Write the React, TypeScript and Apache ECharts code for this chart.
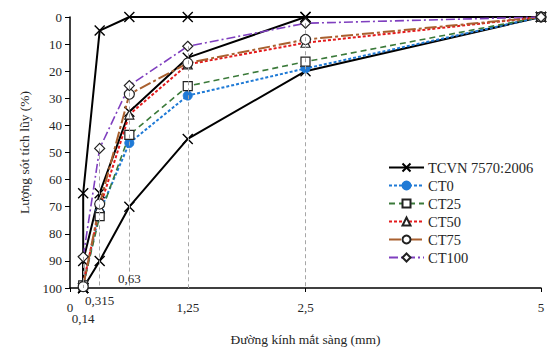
import { useEffect, useRef } from "react";
import * as echarts from "echarts";

// ---- data ----
const sieves = [0.14, 0.315, 0.63, 1.25, 2.5, 5];
const panSize = 0.14;
const panValue = 100;
const tcvnFineLower = [65, 5, 0, 0, 0, 0];
const tcvnMiddle = [90, 65, 35, 15, 0, 0];
const tcvnCoarseUpper = [100, 90, 70, 45, 20, 0];
const ct0 = [99, 72, 46.5, 29, 19, 0];
const ct25 = [99, 73.5, 43.5, 25.5, 16.5, 0];
const ct50 = [98.5, 70.5, 36, 17.5, 9.5, 0];
const ct75 = [99.5, 69, 28.5, 17, 8.3, 0];
const ct100 = [88.5, 48.5, 25.3, 10.8, 2.3, 0];
const tickValues = [0, 0.14, 0.315, 0.63, 1.25, 2.5, 5];
const tickLabels = ["0", "0,14", "0,315", "0,63", "1,25", "2,5", "5"];

// ---- layout (pixel offsets of the x tick labels from the axis line) ----
const tickLabelOffsets = [19, 30, 12, -10, 19, 19, 19];

const FONT = "Liberation Serif";
const TEXT = "#262626";

const pairs = (vals: number[]) => sieves.map((s, i) => [s, vals[i]]);

export default function App() {
  const ref = useRef<HTMLDivElement>(null);
  useEffect(() => {
    if (!ref.current) return;
    document.body.style.margin = "0";
    const chart = echarts.init(ref.current, undefined, { renderer: "svg" });
    const xSym = "path://M0 0L10 10M10 0L0 10";
    const tcvnSeries = (vals: number[], idx: number) => ({
      name: "TCVN 7570:2006",
      type: "line",
      id: "tcvn" + idx,
      data: [[panSize, panValue], ...pairs(vals)],
      symbol: xSym,
      symbolSize: 10,
      lineStyle: { color: "#000", width: 2, type: "solid" },
      itemStyle: { color: "#000", borderColor: "#000", borderWidth: 1.4 },
      z: 3,
    });
    const ctSeries = (
      name: string,
      vals: number[],
      color: string,
      dash: number[],
      width: number,
      symbol: string,
      size: number,
      filled: boolean
    ) => ({
      name,
      type: "line",
      data: pairs(vals),
      symbol,
      symbolSize: size,
      lineStyle: { color, width, type: dash },
      itemStyle: filled
        ? { color, borderColor: color, borderWidth: 1 }
        : { color: "#fff", borderColor: "#222", borderWidth: 1.2 },
      z: 4,
    });
    const dropData = sieves
      .filter((s) => s < 5)
      .map((s, i) => {
        const top = Math.min(ct0[i], ct25[i], ct50[i], ct75[i], ct100[i]);
        return [{ coord: [s, top] }, { coord: [s, 100] }];
      });
    chart.setOption({
      animation: false,
      grid: { left: 70, right: 6, top: 17, bottom: 58 },
      legend: {
        orient: "vertical",
        left: 388,
        top: 160,
        padding: 0,
        itemWidth: 35,
        itemHeight: 10,
        itemGap: 3,
        textStyle: { fontFamily: FONT, fontSize: 14.5, color: TEXT, padding: [0, 0, 0, -1] },
        data: ["TCVN 7570:2006", "CT0", "CT25", "CT50", "CT75", "CT100"],
      },
      xAxis: {
        type: "value",
        min: 0,
        max: 5,
        interval: 2.5,
        name: "Đường kính mắt sàng (mm)",
        nameLocation: "middle",
        nameGap: 44,
        nameTextStyle: { fontFamily: FONT, fontSize: 13.5, color: TEXT },
        axisLine: { onZero: false, lineStyle: { color: "#000", width: 1.5 } },
        axisTick: { show: true, length: 4, lineStyle: { color: "#000" } },
        axisLabel: { show: false },
        splitLine: { show: false },
      },
      yAxis: {
        type: "value",
        inverse: true,
        min: 0,
        max: 100,
        interval: 10,
        name: "Lượng sót tích lũy (%)",
        nameLocation: "middle",
        nameGap: 38,
        nameTextStyle: { fontFamily: FONT, fontSize: 13.5, color: TEXT },
        axisLine: { show: true, onZero: false, lineStyle: { color: "#000", width: 1.5 } },
        axisTick: { show: true, length: 5, lineStyle: { color: "#000" } },
        axisLabel: { fontFamily: FONT, fontSize: 13, color: TEXT, margin: 8 },
        splitLine: { show: false },
      },
      series: [
        {
          type: "line",
          name: "drop",
          data: [],
          silent: true,
          z: 1,
          markLine: {
            silent: true,
            symbol: "none",
            label: { show: false },
            lineStyle: { color: "#a6a6a6", width: 1, type: [4, 3] },
            data: dropData,
          },
        },
        tcvnSeries(tcvnFineLower, 0),
        tcvnSeries(tcvnMiddle, 1),
        tcvnSeries(tcvnCoarseUpper, 2),
        ctSeries("CT0", ct0, "#1f7ad6", [3, 2], 2, "circle", 9, true),
        ctSeries("CT25", ct25, "#3b7a3a", [6, 4], 1.6, "rect", 9, false),
        ctSeries("CT50", ct50, "#e31a1c", [3, 2], 2, "triangle", 9, false),
        ctSeries("CT75", ct75, "#a9602f", [12, 3, 3, 3], 2, "circle", 10, false),
        ctSeries("CT100", ct100, "#7f3fbf", [9, 3, 2, 3], 1.6, "diamond", 10, false),
      ],
    });
    const graphic = tickValues.map((v, i) => {
      const p = chart.convertToPixel({ xAxisIndex: 0, yAxisIndex: 0 }, [v, 100]) as number[];
      return {
        type: "text",
        x: p[0],
        y: p[1] + tickLabelOffsets[i],
        style: {
          text: tickLabels[i],
          fontFamily: FONT,
          fontSize: 13,
          fill: TEXT,
          align: "center",
          verticalAlign: "middle",
        },
        z: 10,
      };
    });
    chart.setOption({ graphic });
    return () => chart.dispose();
  }, []);
  return <div ref={ref} style={{ width: 547, height: 351 }} />;
}
